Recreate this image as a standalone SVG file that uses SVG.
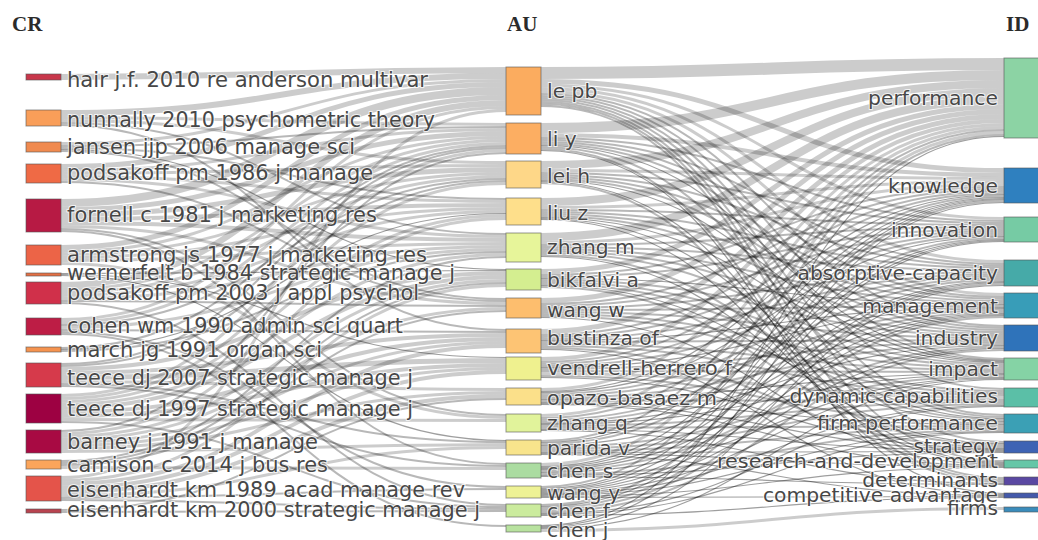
<svg xmlns="http://www.w3.org/2000/svg" width="1038" height="540" viewBox="0 0 1038 540">
<style>
.hd{font-family:"Liberation Serif","Times New Roman",serif;font-weight:bold;font-size:21px;fill:#2b2b2b}
.lb{font-family:"DejaVu Sans",Verdana,sans-serif;font-size:20.3px;fill:#474747;paint-order:stroke;stroke:#fff;stroke-width:2px;stroke-opacity:.75}
.cr{font-size:20.8px}
.r{text-anchor:end}
.nd{stroke:#555;stroke-opacity:.6;stroke-width:1}
#links path{fill:none;stroke:#000;stroke-opacity:.2}
#links .t1 path{stroke-opacity:.38}
#links .t2 path{stroke-opacity:.28}
</style>
<rect width="1038" height="540" fill="#fff"/>
<text class="hd" x="12" y="31">CR</text>
<text class="hd" x="507" y="31">AU</text>
<text class="hd" x="1006" y="31">ID</text>
<g id="links">
<g class="t1" stroke-width="1.2">
<path d="M61 149.5C283 149.5 283 269.5 506 269.5"/>
<path d="M61 273.5C283 273.5 283 270.5 506 270.5"/>
<path d="M61 274.5C283 274.5 283 357.5 506 357.5"/>
<path d="M61 275.5C283 275.5 283 440.5 506 440.5"/>
<path d="M61 349.5C283 349.5 283 213.5 506 213.5"/>
<path d="M541 145.5C772 145.5 772 360.5 1004 360.5"/>
<path d="M541 150.5C772 150.5 772 493.5 1004 493.5"/>
<path d="M541 180.5C772 180.5 772 361.5 1004 361.5"/>
<path d="M541 181.5C772 181.5 772 462.5 1004 462.5"/>
<path d="M541 217.5C772 217.5 772 362.5 1004 362.5"/>
<path d="M541 218.5C772 218.5 772 418.5 1004 418.5"/>
<path d="M541 219.5C772 219.5 772 463.5 1004 463.5"/>
<path d="M541 256.5C772 256.5 772 443.5 1004 443.5"/>
<path d="M541 278.5C772 278.5 772 304.5 1004 304.5"/>
<path d="M541 285.5C772 285.5 772 421.5 1004 421.5"/>
<path d="M541 317.5C772 317.5 772 464.5 1004 464.5"/>
<path d="M541 340.5C772 340.5 772 307.5 1004 307.5"/>
<path d="M541 349.5C772 349.5 772 494.5 1004 494.5"/>
<path d="M541 367.5C772 367.5 772 308.5 1004 308.5"/>
<path d="M541 377.5C772 377.5 772 448.5 1004 448.5"/>
<path d="M541 391.5C772 391.5 772 194.5 1004 194.5"/>
<path d="M541 392.5C772 392.5 772 236.5 1004 236.5"/>
<path d="M541 399.5C772 399.5 772 373.5 1004 373.5"/>
<path d="M541 402.5C772 402.5 772 424.5 1004 424.5"/>
<path d="M541 403.5C772 403.5 772 449.5 1004 449.5"/>
<path d="M541 404.5C772 404.5 772 465.5 1004 465.5"/>
<path d="M541 423.5C772 423.5 772 345.5 1004 345.5"/>
<path d="M541 424.5C772 424.5 772 374.5 1004 374.5"/>
<path d="M541 429.5C772 429.5 772 450.5 1004 450.5"/>
<path d="M541 430.5C772 430.5 772 483.5 1004 483.5"/>
<path d="M541 442.5C772 442.5 772 197.5 1004 197.5"/>
<path d="M541 445.5C772 445.5 772 313.5 1004 313.5"/>
<path d="M541 452.5C772 452.5 772 451.5 1004 451.5"/>
<path d="M541 453.5C772 453.5 772 466.5 1004 466.5"/>
<path d="M541 454.5C772 454.5 772 495.5 1004 495.5"/>
<path d="M541 466.5C772 466.5 772 198.5 1004 198.5"/>
<path d="M541 467.5C772 467.5 772 239.5 1004 239.5"/>
<path d="M541 468.5C772 468.5 772 281.5 1004 281.5"/>
<path d="M541 469.5C772 469.5 772 314.5 1004 314.5"/>
<path d="M541 472.5C772 472.5 772 377.5 1004 377.5"/>
<path d="M541 475.5C772 475.5 772 452.5 1004 452.5"/>
<path d="M541 476.5C772 476.5 772 484.5 1004 484.5"/>
<path d="M541 488.5C772 488.5 772 199.5 1004 199.5"/>
<path d="M541 489.5C772 489.5 772 240.5 1004 240.5"/>
<path d="M541 490.5C772 490.5 772 282.5 1004 282.5"/>
<path d="M541 491.5C772 491.5 772 315.5 1004 315.5"/>
<path d="M541 492.5C772 492.5 772 348.5 1004 348.5"/>
<path d="M541 493.5C772 493.5 772 378.5 1004 378.5"/>
<path d="M541 494.5C772 494.5 772 405.5 1004 405.5"/>
<path d="M541 495.5C772 495.5 772 431.5 1004 431.5"/>
<path d="M541 496.5C772 496.5 772 467.5 1004 467.5"/>
<path d="M541 497.5C772 497.5 772 496.5 1004 496.5"/>
<path d="M541 506.5C772 506.5 772 241.5 1004 241.5"/>
<path d="M541 513.5C772 513.5 772 406.5 1004 406.5"/>
<path d="M541 514.5C772 514.5 772 432.5 1004 432.5"/>
<path d="M541 515.5C772 515.5 772 497.5 1004 497.5"/>
<path d="M541 525.5C772 525.5 772 136.5 1004 136.5"/>
<path d="M541 526.5C772 526.5 772 202.5 1004 202.5"/>
<path d="M541 527.5C772 527.5 772 285.5 1004 285.5"/>
<path d="M541 528.5C772 528.5 772 379.5 1004 379.5"/>
</g>
<g class="t2" stroke-width="2">
<path d="M61 123C283 123 283 234 506 234"/>
<path d="M61 125C283 125 283 330 506 330"/>
<path d="M61 146C283 146 283 127 506 127"/>
<path d="M61 148C283 148 283 199 506 199"/>
<path d="M61 151C283 151 283 299 506 299"/>
<path d="M61 182C283 182 283 301 506 301"/>
<path d="M61 229C283 229 283 415 506 415"/>
<path d="M61 231C283 231 283 464 506 464"/>
<path d="M61 301C283 301 283 306 506 306"/>
<path d="M61 303C283 303 283 505 506 505"/>
<path d="M61 325C283 325 283 179 506 179"/>
<path d="M61 330C283 330 283 332 506 332"/>
<path d="M61 332C283 332 283 487 506 487"/>
<path d="M61 334C283 334 283 526 506 526"/>
<path d="M61 348C283 348 283 146 506 146"/>
<path d="M61 351C283 351 283 252 506 252"/>
<path d="M61 364C283 364 283 148 506 148"/>
<path d="M61 366C283 366 283 181 506 181"/>
<path d="M61 384C283 384 283 442 506 442"/>
<path d="M61 386C283 386 283 466 506 466"/>
<path d="M61 422C283 422 283 507 506 507"/>
<path d="M61 431C283 431 283 153 506 153"/>
<path d="M61 461C283 461 283 257 506 257"/>
<path d="M61 463C283 463 283 283 506 283"/>
<path d="M61 465C283 465 283 311 506 311"/>
<path d="M61 498C283 498 283 489 506 489"/>
<path d="M61 500C283 500 283 509 506 509"/>
<path d="M61 510C283 510 283 399 506 399"/>
<path d="M61 512C283 512 283 511 506 511"/>
<path d="M541 94C772 94 772 326 1004 326"/>
<path d="M541 96C772 96 772 359 1004 359"/>
<path d="M541 98C772 98 772 389 1004 389"/>
<path d="M541 100C772 100 772 415 1004 415"/>
<path d="M541 102C772 102 772 442 1004 442"/>
<path d="M541 104C772 104 772 461 1004 461"/>
<path d="M541 106C772 106 772 478 1004 478"/>
<path d="M541 138C772 138 772 221 1004 221"/>
<path d="M541 140C772 140 772 264 1004 264"/>
<path d="M541 142C772 142 772 297 1004 297"/>
<path d="M541 144C772 144 772 328 1004 328"/>
<path d="M541 147C772 147 772 417 1004 417"/>
<path d="M541 149C772 149 772 480 1004 480"/>
<path d="M541 173C772 173 772 223 1004 223"/>
<path d="M541 175C772 175 772 266 1004 266"/>
<path d="M541 177C772 177 772 299 1004 299"/>
<path d="M541 179C772 179 772 330 1004 330"/>
<path d="M541 183C772 183 772 482 1004 482"/>
<path d="M541 210C772 210 772 225 1004 225"/>
<path d="M541 212C772 212 772 268 1004 268"/>
<path d="M541 214C772 214 772 301 1004 301"/>
<path d="M541 216C772 216 772 332 1004 332"/>
<path d="M541 245C772 245 772 227 1004 227"/>
<path d="M541 247C772 247 772 270 1004 270"/>
<path d="M541 249C772 249 772 303 1004 303"/>
<path d="M541 251C772 251 772 334 1004 334"/>
<path d="M541 253C772 253 772 364 1004 364"/>
<path d="M541 255C772 255 772 420 1004 420"/>
<path d="M541 275C772 275 772 187 1004 187"/>
<path d="M541 277C772 277 772 229 1004 229"/>
<path d="M541 280C772 280 772 336 1004 336"/>
<path d="M541 282C772 282 772 366 1004 366"/>
<path d="M541 284C772 284 772 391 1004 391"/>
<path d="M541 287C772 287 772 445 1004 445"/>
<path d="M541 304C772 304 772 189 1004 189"/>
<path d="M541 306C772 306 772 231 1004 231"/>
<path d="M541 308C772 308 772 272 1004 272"/>
<path d="M541 310C772 310 772 306 1004 306"/>
<path d="M541 312C772 312 772 338 1004 338"/>
<path d="M541 314C772 314 772 368 1004 368"/>
<path d="M541 316C772 316 772 393 1004 393"/>
<path d="M541 335C772 335 772 191 1004 191"/>
<path d="M541 337C772 337 772 233 1004 233"/>
<path d="M541 339C772 339 772 274 1004 274"/>
<path d="M541 342C772 342 772 340 1004 340"/>
<path d="M541 344C772 344 772 370 1004 370"/>
<path d="M541 346C772 346 772 395 1004 395"/>
<path d="M541 348C772 348 772 447 1004 447"/>
<path d="M541 362C772 362 772 193 1004 193"/>
<path d="M541 364C772 364 772 235 1004 235"/>
<path d="M541 366C772 366 772 276 1004 276"/>
<path d="M541 369C772 369 772 342 1004 342"/>
<path d="M541 371C772 371 772 372 1004 372"/>
<path d="M541 376C772 376 772 423 1004 423"/>
<path d="M541 394C772 394 772 278 1004 278"/>
<path d="M541 396C772 396 772 310 1004 310"/>
<path d="M541 398C772 398 772 344 1004 344"/>
<path d="M541 401C772 401 772 400 1004 400"/>
<path d="M541 418C772 418 772 196 1004 196"/>
<path d="M541 420C772 420 772 280 1004 280"/>
<path d="M541 422C772 422 772 312 1004 312"/>
<path d="M541 426C772 426 772 402 1004 402"/>
<path d="M541 428C772 428 772 426 1004 426"/>
<path d="M541 441C772 441 772 130 1004 130"/>
<path d="M541 444C772 444 772 238 1004 238"/>
<path d="M541 447C772 447 772 376 1004 376"/>
<path d="M541 449C772 449 772 404 1004 404"/>
<path d="M541 451C772 451 772 428 1004 428"/>
<path d="M541 471C772 471 772 347 1004 347"/>
<path d="M541 474C772 474 772 430 1004 430"/>
<path d="M541 487C772 487 772 135 1004 135"/>
<path d="M541 505C772 505 772 201 1004 201"/>
<path d="M541 508C772 508 772 284 1004 284"/>
<path d="M541 510C772 510 772 317 1004 317"/>
<path d="M541 512C772 512 772 350 1004 350"/>
</g>
<g stroke-width="3">
<path d="M61 117.5C283 117.5 283 124.5 506 124.5"/>
<path d="M61 120.5C283 120.5 283 162.5 506 162.5"/>
<path d="M61 143.5C283 143.5 283 80.5 506 80.5"/>
<path d="M61 170.5C283 170.5 283 129.5 506 129.5"/>
<path d="M61 173.5C283 173.5 283 165.5 506 165.5"/>
<path d="M61 176.5C283 176.5 283 201.5 506 201.5"/>
<path d="M61 179.5C283 179.5 283 236.5 506 236.5"/>
<path d="M61 226.5C283 226.5 283 303.5 506 303.5"/>
<path d="M61 251.5C283 251.5 283 137.5 506 137.5"/>
<path d="M61 254.5C283 254.5 283 173.5 506 173.5"/>
<path d="M61 257.5C283 257.5 283 208.5 506 208.5"/>
<path d="M61 260.5C283 260.5 283 243.5 506 243.5"/>
<path d="M61 263.5C283 263.5 283 417.5 506 417.5"/>
<path d="M61 289.5C283 289.5 283 140.5 506 140.5"/>
<path d="M61 292.5C283 292.5 283 176.5 506 176.5"/>
<path d="M61 295.5C283 295.5 283 211.5 506 211.5"/>
<path d="M61 298.5C283 298.5 283 246.5 506 246.5"/>
<path d="M61 319.5C283 319.5 283 107.5 506 107.5"/>
<path d="M61 322.5C283 322.5 283 143.5 506 143.5"/>
<path d="M61 327.5C283 327.5 283 249.5 506 249.5"/>
<path d="M61 381.5C283 381.5 283 389.5 506 389.5"/>
<path d="M61 395.5C283 395.5 283 150.5 506 150.5"/>
<path d="M61 398.5C283 398.5 283 183.5 506 183.5"/>
<path d="M61 401.5C283 401.5 283 215.5 506 215.5"/>
<path d="M61 404.5C283 404.5 283 254.5 506 254.5"/>
<path d="M61 419.5C283 419.5 283 420.5 506 420.5"/>
<path d="M61 433.5C283 433.5 283 218.5 506 218.5"/>
<path d="M61 436.5C283 436.5 283 280.5 506 280.5"/>
<path d="M61 439.5C283 439.5 283 308.5 506 308.5"/>
<path d="M61 442.5C283 442.5 283 342.5 506 342.5"/>
<path d="M61 445.5C283 445.5 283 368.5 506 368.5"/>
<path d="M61 448.5C283 448.5 283 392.5 506 392.5"/>
<path d="M61 451.5C283 451.5 283 444.5 506 444.5"/>
<path d="M61 467.5C283 467.5 283 468.5 506 468.5"/>
<path d="M61 477.5C283 477.5 283 110.5 506 110.5"/>
<path d="M61 480.5C283 480.5 283 285.5 506 285.5"/>
<path d="M61 495.5C283 495.5 283 447.5 506 447.5"/>
<path d="M541 85.5C772 85.5 772 218.5 1004 218.5"/>
<path d="M541 88.5C772 88.5 772 261.5 1004 261.5"/>
<path d="M541 91.5C772 91.5 772 294.5 1004 294.5"/>
<path d="M541 170.5C772 170.5 772 178.5 1004 178.5"/>
<path d="M541 207.5C772 207.5 772 181.5 1004 181.5"/>
<path d="M541 242.5C772 242.5 772 184.5 1004 184.5"/>
<path d="M541 373.5C772 373.5 772 397.5 1004 397.5"/>
<path d="M541 389.5C772 389.5 772 124.5 1004 124.5"/>
<path d="M541 415.5C772 415.5 772 127.5 1004 127.5"/>
<path d="M541 464.5C772 464.5 772 132.5 1004 132.5"/>
<path d="M541 530.5C772 530.5 772 508.5 1004 508.5"/>
</g>
<g stroke-width="4">
<path d="M61 219C283 219 283 205 506 205"/>
<path d="M61 223C283 223 283 240 506 240"/>
<path d="M61 369C283 369 283 273 506 273"/>
<path d="M61 373C283 373 283 335 506 335"/>
<path d="M61 408C283 408 283 277 506 277"/>
<path d="M61 412C283 412 283 339 506 339"/>
<path d="M61 416C283 416 283 365 506 365"/>
<path d="M61 484C283 484 283 346 506 346"/>
<path d="M61 488C283 488 283 372 506 372"/>
<path d="M61 492C283 492 283 396 506 396"/>
<path d="M541 135C772 135 772 175 1004 175"/>
<path d="M541 359C772 359 772 121 1004 121"/>
</g>
<g stroke-width="5">
<path d="M61 166.5C283 166.5 283 84.5 506 84.5"/>
<path d="M61 209.5C283 209.5 283 133.5 506 133.5"/>
<path d="M61 214.5C283 214.5 283 169.5 506 169.5"/>
<path d="M61 247.5C283 247.5 283 97.5 506 97.5"/>
<path d="M61 377.5C283 377.5 283 360.5 506 360.5"/>
<path d="M541 81.5C772 81.5 772 170.5 1004 170.5"/>
<path d="M541 271.5C772 271.5 772 106.5 1004 106.5"/>
<path d="M541 300.5C772 300.5 772 111.5 1004 111.5"/>
<path d="M541 331.5C772 331.5 772 116.5 1004 116.5"/>
</g>
<g stroke-width="6">
<path d="M61 77C283 77 283 70 506 70"/>
<path d="M61 113C283 113 283 76 506 76"/>
<path d="M61 285C283 285 283 103 506 103"/>
</g>
<g stroke-width="8">
<path d="M61 203C283 203 283 91 506 91"/>
<path d="M541 165C772 165 772 84 1004 84"/>
<path d="M541 202C772 202 772 92 1004 92"/>
<path d="M541 237C772 237 772 100 1004 100"/>
</g>
<path d="M541 128C772 128 772 75 1004 75" stroke-width="10"/>
<path d="M541 73C772 73 772 64 1004 64" stroke-width="12"/>
</g>
<g id="cr-hair"><rect class="nd" x="26" y="74" width="35" height="6" fill="#c8374b"/><text class="lb cr" x="67" y="87" textLength="361" lengthAdjust="spacingAndGlyphs">hair j.f. 2010 re anderson multivar</text></g>
<g id="cr-nunnally"><rect class="nd" x="26" y="110" width="35" height="16" fill="#f99e59"/><text class="lb cr" x="67" y="127" textLength="368" lengthAdjust="spacingAndGlyphs">nunnally 2010 psychometric theory</text></g>
<g id="cr-jansen"><rect class="nd" x="26" y="142" width="35" height="10" fill="#f08a4f"/><text class="lb cr" x="67" y="154" textLength="288" lengthAdjust="spacingAndGlyphs">jansen jjp 2006 manage sci</text></g>
<g id="cr-podsakoff1986"><rect class="nd" x="26" y="164" width="35" height="19" fill="#ef6a45"/><text class="lb cr" x="67" y="180" textLength="306" lengthAdjust="spacingAndGlyphs">podsakoff pm 1986 j manage</text></g>
<g id="cr-fornell"><rect class="nd" x="26" y="199" width="35" height="33" fill="#b71a44"/><text class="lb cr" x="67" y="222" textLength="310" lengthAdjust="spacingAndGlyphs">fornell c 1981 j marketing res</text></g>
<g id="cr-armstrong"><rect class="nd" x="26" y="245" width="35" height="20" fill="#ec6447"/><text class="lb cr" x="67" y="262" textLength="360" lengthAdjust="spacingAndGlyphs">armstrong js 1977 j marketing res</text></g>
<g id="cr-wernerfelt"><rect class="nd" x="26" y="273" width="35" height="3" fill="#e47044"/><text class="lb cr" x="67" y="280" textLength="388" lengthAdjust="spacingAndGlyphs">wernerfelt b 1984 strategic manage j</text></g>
<g id="cr-podsakoff2003"><rect class="nd" x="26" y="282" width="35" height="22" fill="#d0304a"/><text class="lb cr" x="67" y="300" textLength="352" lengthAdjust="spacingAndGlyphs">podsakoff pm 2003 j appl psychol</text></g>
<g id="cr-cohen"><rect class="nd" x="26" y="318" width="35" height="17" fill="#bd1d45"/><text class="lb cr" x="67" y="333" textLength="336" lengthAdjust="spacingAndGlyphs">cohen wm 1990 admin sci quart</text></g>
<g id="cr-march"><rect class="nd" x="26" y="347" width="35" height="5" fill="#f5934f"/><text class="lb cr" x="67" y="357" textLength="255" lengthAdjust="spacingAndGlyphs">march jg 1991 organ sci</text></g>
<g id="cr-teece2007"><rect class="nd" x="26" y="363" width="35" height="24" fill="#d63a4b"/><text class="lb cr" x="67" y="385" textLength="346" lengthAdjust="spacingAndGlyphs">teece dj 2007 strategic manage j</text></g>
<g id="cr-teece1997"><rect class="nd" x="26" y="394" width="35" height="29" fill="#9d0142"/><text class="lb cr" x="67" y="416" textLength="346" lengthAdjust="spacingAndGlyphs">teece dj 1997 strategic manage j</text></g>
<g id="cr-barney"><rect class="nd" x="26" y="430" width="35" height="23" fill="#a80a43"/><text class="lb cr" x="67" y="449" textLength="251" lengthAdjust="spacingAndGlyphs">barney j 1991 j manage</text></g>
<g id="cr-camison"><rect class="nd" x="26" y="460" width="35" height="9" fill="#fba55b"/><text class="lb cr" x="67" y="472" textLength="261" lengthAdjust="spacingAndGlyphs">camison c 2014 j bus res</text></g>
<g id="cr-eisenhardt1989"><rect class="nd" x="26" y="476" width="35" height="25" fill="#e4544a"/><text class="lb cr" x="67" y="497" textLength="398" lengthAdjust="spacingAndGlyphs">eisenhardt km 1989 acad manage rev</text></g>
<g id="cr-eisenhardt2000"><rect class="nd" x="26" y="509" width="35" height="4" fill="#b8434f"/><text class="lb cr" x="67" y="517" textLength="413" lengthAdjust="spacingAndGlyphs">eisenhardt km 2000 strategic manage j</text></g>
<g id="au-lepb"><rect class="nd" x="506" y="67" width="35" height="48" fill="#fbac5f"/><text class="lb" x="547" y="98">le pb</text></g>
<g id="au-liy"><rect class="nd" x="506" y="123" width="35" height="31" fill="#fcae62"/><text class="lb" x="547" y="146">li y</text></g>
<g id="au-leih"><rect class="nd" x="506" y="161" width="35" height="27" fill="#fed788"/><text class="lb" x="547" y="183">lei h</text></g>
<g id="au-liuz"><rect class="nd" x="506" y="198" width="35" height="27" fill="#fedf8b"/><text class="lb" x="547" y="220">liu z</text></g>
<g id="au-zhangm"><rect class="nd" x="506" y="233" width="35" height="29" fill="#e7f59a"/><text class="lb" x="547" y="254">zhang m</text></g>
<g id="au-bikfalvi"><rect class="nd" x="506" y="269" width="35" height="21" fill="#d4ee90"/><text class="lb" x="547" y="287">bikfalvi a</text></g>
<g id="au-wangw"><rect class="nd" x="506" y="298" width="35" height="20" fill="#fdbe6e"/><text class="lb" x="547" y="317">wang w</text></g>
<g id="au-bustinza"><rect class="nd" x="506" y="329" width="35" height="24" fill="#fdc474"/><text class="lb" x="547" y="345">bustinza of</text></g>
<g id="au-vendrell"><rect class="nd" x="506" y="357" width="35" height="23" fill="#eff18f"/><text class="lb" x="547" y="375" textLength="185" lengthAdjust="spacingAndGlyphs">vendrell-herrero f</text></g>
<g id="au-opazo"><rect class="nd" x="506" y="388" width="35" height="17" fill="#fbe08a"/><text class="lb" x="547" y="405" textLength="170" lengthAdjust="spacingAndGlyphs">opazo-basaez m</text></g>
<g id="au-zhangq"><rect class="nd" x="506" y="414" width="35" height="18" fill="#e1f39b"/><text class="lb" x="547" y="430">zhang q</text></g>
<g id="au-parida"><rect class="nd" x="506" y="440" width="35" height="15" fill="#f8e48c"/><text class="lb" x="547" y="455">parida v</text></g>
<g id="au-chens"><rect class="nd" x="506" y="463" width="35" height="15" fill="#abdca1"/><text class="lb" x="547" y="478">chen s</text></g>
<g id="au-wangy"><rect class="nd" x="506" y="486" width="35" height="12" fill="#eef295"/><text class="lb" x="547" y="500">wang y</text></g>
<g id="au-chenf"><rect class="nd" x="506" y="504" width="35" height="13" fill="#cbeb9d"/><text class="lb" x="547" y="518">chen f</text></g>
<g id="au-chenj"><rect class="nd" x="506" y="525" width="35" height="7" fill="#b8e29f"/><text class="lb" x="547" y="537">chen j</text></g>
<g id="id-performance"><rect class="nd" x="1004" y="58" width="35" height="80" fill="#8cd3a4"/><text class="lb r" x="998" y="105">performance</text></g>
<g id="id-knowledge"><rect class="nd" x="1004" y="168" width="35" height="35" fill="#2f80bf"/><text class="lb r" x="998" y="193">knowledge</text></g>
<g id="id-innovation"><rect class="nd" x="1004" y="217" width="35" height="25" fill="#76cba4"/><text class="lb r" x="998" y="237">innovation</text></g>
<g id="id-absorptive"><rect class="nd" x="1004" y="260" width="35" height="26" fill="#46aaa8"/><text class="lb r" x="998" y="280">absorptive-capacity</text></g>
<g id="id-management"><rect class="nd" x="1004" y="293" width="35" height="25" fill="#389db8"/><text class="lb r" x="998" y="313">management</text></g>
<g id="id-industry"><rect class="nd" x="1004" y="325" width="35" height="26" fill="#2f73ba"/><text class="lb r" x="998" y="345">industry</text></g>
<g id="id-impact"><rect class="nd" x="1004" y="358" width="35" height="22" fill="#85d3a5"/><text class="lb r" x="998" y="376">impact</text></g>
<g id="id-dynamic"><rect class="nd" x="1004" y="388" width="35" height="19" fill="#5bbfa7"/><text class="lb r" x="998" y="403">dynamic capabilities</text></g>
<g id="id-firmperformance"><rect class="nd" x="1004" y="414" width="35" height="19" fill="#3ba0b5"/><text class="lb r" x="998" y="430" textLength="181" lengthAdjust="spacingAndGlyphs">firm performance</text></g>
<g id="id-strategy"><rect class="nd" x="1004" y="441" width="35" height="12" fill="#3e63b4"/><text class="lb r" x="998" y="453">strategy</text></g>
<g id="id-rd"><rect class="nd" x="1004" y="460" width="35" height="8" fill="#66c6a7"/><text class="lb r" x="998" y="468" textLength="281" lengthAdjust="spacingAndGlyphs">research-and-development</text></g>
<g id="id-determinants"><rect class="nd" x="1004" y="477" width="35" height="8" fill="#5a48a2"/><text class="lb r" x="998" y="487">determinants</text></g>
<g id="id-competitive"><rect class="nd" x="1004" y="493" width="35" height="5" fill="#4459aa"/><text class="lb r" x="998" y="502">competitive advantage</text></g>
<g id="id-firms"><rect class="nd" x="1004" y="507" width="35" height="5" fill="#3b8cbb"/><text class="lb r" x="998" y="515">firms</text></g>
</svg>
